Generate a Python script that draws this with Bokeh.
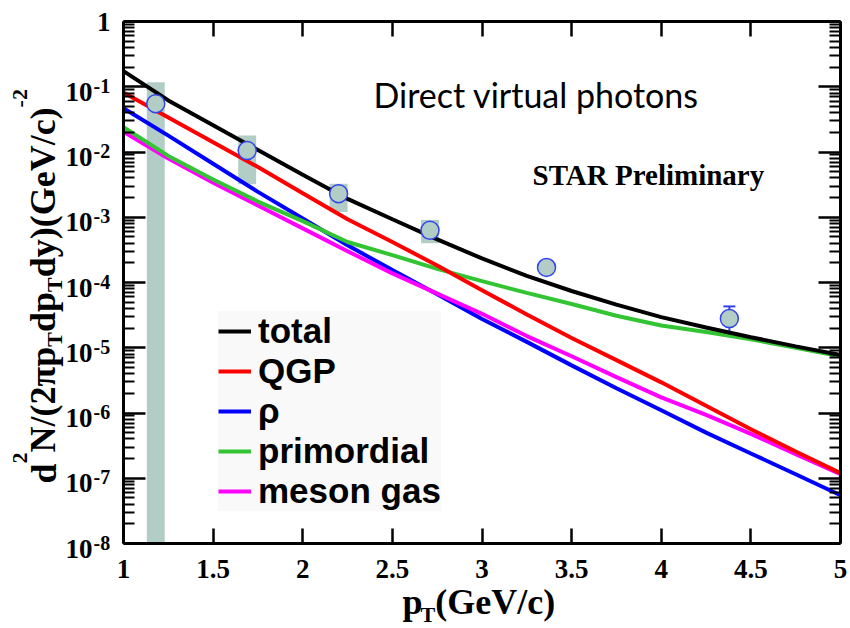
from bokeh.plotting import figure
from bokeh.models import (ColumnDataSource, FixedTicker, LinearAxis, LogAxis,
                          LabelSet, Legend, LegendItem, Whisker, TeeHead, CustomJSTickFormatter)
from bokeh.core.properties import value
from bokeh.embed import file_html
from bokeh.resources import INLINE

# ---------------- data ----------------
pt = [1.0, 1.25, 1.5, 1.75, 2.0, 2.25, 2.5, 2.75, 3.0, 3.25, 3.5, 3.75, 4.0, 4.25, 4.5, 4.75, 5.0]
total = [0.174, 0.0617, 0.0257, 0.0107, 4.47e-3, 1.91e-3, 9.33e-4, 4.57e-4, 2.34e-4, 1.26e-4,
         7.41e-5, 4.57e-5, 2.95e-5, 2.04e-5, 1.45e-5, 1.05e-5, 7.76e-6]
qgp = [0.0813, 0.0339, 0.0141, 5.89e-3, 2.34e-3, 9.33e-4, 4.17e-4, 1.82e-4, 7.59e-5, 3.24e-5,
       1.41e-5, 6.46e-6, 2.95e-6, 1.29e-6, 5.62e-7, 2.57e-7, 1.20e-7]
rho = [0.0468, 0.0178, 6.61e-3, 2.45e-3, 9.55e-4, 3.72e-4, 1.55e-4, 6.61e-5, 2.75e-5, 1.23e-5,
       5.37e-6, 2.40e-6, 1.10e-6, 5.01e-7, 2.40e-7, 1.15e-7, 5.50e-8]
primordial = [0.0240, 8.71e-3, 3.80e-3, 1.74e-3, 8.71e-4, 4.17e-4, 2.63e-4, 1.62e-4, 1.05e-4, 6.92e-5,
              4.68e-5, 3.09e-5, 2.19e-5, 1.74e-5, 1.35e-5, 1.00e-5, 7.41e-6]
meson_gas = [0.0204, 7.94e-3, 3.39e-3, 1.51e-3, 6.76e-4, 3.02e-4, 1.38e-4, 6.76e-5, 3.31e-5, 1.51e-5,
             7.41e-6, 3.55e-6, 1.74e-6, 9.33e-7, 4.79e-7, 2.34e-7, 1.15e-7]

# STAR preliminary data points
data_pt = [1.18, 1.69, 2.20, 2.71, 3.36, 4.38]
data_y = [0.055, 0.0105, 2.3e-3, 6.3e-4, 1.7e-4, 2.8e-5]
# statistical error (only visible one)
err_pt = [4.38]
err_lo = [1.7e-5]
err_hi = [4.3e-5]
# systematic boxes (first one reaches down to the axis)
sys_pt = [1.18, 1.69, 2.20, 2.71]
sys_lo = [1e-8, 3.2e-3, 1.2e-3, 4.0e-4]
sys_hi = [0.117, 0.0179, 3.26e-3, 9.1e-4]

x_ticks = [1, 1.5, 2, 2.5, 3, 3.5, 4, 4.5, 5]
x_tick_labels = ["1", "1.5", "2", "2.5", "3", "3.5", "4", "4.5", "5"]
y_decades = [1e-8, 1e-7, 1e-6, 1e-5, 1e-4, 1e-3, 1e-2, 1e-1, 1.0]
y_exp_labels = ["-8", "-7", "-6", "-5", "-4", "-3", "-2", "-1"]

# ---------------- layout constants (canvas pixels) ----------------
W_CAN, H_CAN = 848, 626
B = 1                       # border around the frame
FL, FT, FR, FB = B, B, W_CAN - B, H_CAN - B
PX_L, PX_R = 123, 840       # where pT = 1 and pT = 5 sit
PY_T, PY_B = 21, 543        # where y = 1 and y = 1e-8 sit
ppu = (PX_R - PX_L) / 4.0
ppd = (PY_B - PY_T) / 8.0
x_start = 1 - (PX_L - FL) / ppu
x_end = 5 + (FR - PX_R) / ppu
y_end = 10 ** ((PY_T - FT) / ppd)
y_start = 10 ** (-8 - (FB - PY_B) / ppd)

def sx(X):
    return X - FL

def sy(Y):
    return FB - Y

SERIF = "Liberation Serif"
SANS = "Liberation Sans"

p = figure(width=W_CAN, height=H_CAN, x_range=(x_start, x_end), y_range=(y_start, y_end),
           y_axis_type="log", output_backend="svg", toolbar_location=None,
           min_border_left=B, min_border_right=B, min_border_top=B, min_border_bottom=B)
p.grid.visible = False
p.outline_line_color = None
p.background_fill_color = "white"
p.border_fill_color = "white"

y_minor = [m * d for d in y_decades[:-1] for m in range(2, 10)]
blank = CustomJSTickFormatter(code="return ''")

def style_axis(ax, tick_in, minor_in):
    ax.formatter = blank
    ax.major_label_text_font_size = "1px"
    ax.major_label_standoff = 0
    ax.axis_line_width = 3
    ax.axis_line_color = "black"
    ax.major_tick_in = tick_in
    ax.major_tick_out = 0
    ax.minor_tick_in = minor_in
    ax.minor_tick_out = 0
    ax.major_tick_line_width = 2.5
    ax.minor_tick_line_width = 2
    ax.major_tick_line_color = "black"
    ax.minor_tick_line_color = "black"

xa = p.xaxis[0]
xa.ticker = FixedTicker(ticks=x_ticks, minor_ticks=[])
style_axis(xa, 15, 0)
xa.fixed_location = 1e-8
xa.bounds = (1, 5)

ya = p.yaxis[0]
ya.ticker = FixedTicker(ticks=y_decades, minor_ticks=y_minor)
style_axis(ya, 22, 11)
ya.fixed_location = 1
ya.bounds = (1e-8, 1)

top = LinearAxis(ticker=FixedTicker(ticks=x_ticks, minor_ticks=[]))
style_axis(top, 15, 0)
top.fixed_location = 1.0
top.bounds = (1, 5)
p.add_layout(top, "above")

right = LogAxis(ticker=FixedTicker(ticks=y_decades, minor_ticks=y_minor))
style_axis(right, 22, 11)
right.fixed_location = 5
right.bounds = (1e-8, 1)
p.add_layout(right, "right")

# ---------------- glyphs ----------------
BOX = "#b2cdc6"
p.vbar(x=sys_pt, width=0.1, bottom=sys_lo, top=sys_hi, fill_color=BOX, line_color=None)

r_rho = p.line(pt, rho, line_color="#0000ff", line_width=4)
r_mes = p.line(pt, meson_gas, line_color="#ff00ff", line_width=4)
r_pri = p.line(pt, primordial, line_color="#33c433", line_width=4)
r_qgp = p.line(pt, qgp, line_color="#ff0000", line_width=4)
r_tot = p.line(pt, total, line_color="#000000", line_width=4)

esrc = ColumnDataSource(dict(base=err_pt, lower=err_lo, upper=err_hi))
p.add_layout(Whisker(source=esrc, base="base", lower="lower", upper="upper", dimension="height",
                     line_color="#3344ee", line_width=2,
                     upper_head=TeeHead(size=12, line_color="#3344ee", line_width=2),
                     lower_head=None))

p.scatter(data_pt, data_y, marker="circle", size=18, fill_color=BOX, line_color="#3344ee",
          line_width=1.5)

# ---------------- legend ----------------
legend = Legend(items=[LegendItem(label="total", renderers=[r_tot]),
                       LegendItem(label="QGP", renderers=[r_qgp]),
                       LegendItem(label="ρ", renderers=[r_rho]),
                       LegendItem(label="primordial", renderers=[r_pri]),
                       LegendItem(label="meson gas", renderers=[r_mes])],
                location=(sx(218), sy(511)), orientation="vertical")
legend.label_text_font = SANS
legend.label_text_font_style = "bold"
legend.label_text_font_size = "35px"
legend.label_text_color = "black"
legend.glyph_width = 33
legend.glyph_height = 38
legend.label_height = 38
legend.label_standoff = 7
legend.spacing = 0
legend.padding = 4
legend.margin = 0
legend.border_line_color = None
legend.background_fill_color = "#f9f9f9"
legend.background_fill_alpha = 1.0
p.add_layout(legend)

# ---------------- text helper (LabelSet, screen units relative to frame) ----------------
def text_at(X, Y, txt, size, font=SERIF, style="bold", angle=0.0, align="left"):
    src = ColumnDataSource(dict(x=[sx(X)], y=[sy(Y)], t=[txt]))
    p.add_layout(LabelSet(x="x", y="y", text="t", source=src, x_units="screen", y_units="screen",
                          angle=angle, text_align=align, text_baseline="alphabetic",
                          text_font=value(font), text_font_style=style,
                          text_font_size=f"{size}px", text_color="black"))

# ---------------- tick labels ----------------
xsrc = ColumnDataSource(dict(x=x_ticks, y=[1e-8] * len(x_ticks), t=x_tick_labels))
p.add_layout(LabelSet(x="x", y="y", text="t", source=xsrc, text_align="center",
                      text_baseline="alphabetic", y_offset=-(577 - PY_B),
                      text_font=value(SERIF), text_font_style="bold", text_font_size="27px",
                      text_color="black"))

tsrc = ColumnDataSource(dict(y=y_decades[:-1], base=["10"] * 8, exp=y_exp_labels))
p.add_layout(LabelSet(x=sx(92), y="y", x_units="screen", y_units="data", text="base", source=tsrc,
                      text_align="right", text_baseline="alphabetic", y_offset=-14,
                      text_font=value(SERIF), text_font_style="bold", text_font_size="27px",
                      text_color="black"))
p.add_layout(LabelSet(x=sx(93), y="y", x_units="screen", y_units="data", text="exp", source=tsrc,
                      text_align="left", text_baseline="alphabetic", y_offset=-6,
                      text_font=value(SERIF), text_font_style="bold", text_font_size="20px",
                      text_color="black"))
text_at(110, 30, "1", 27, align="right")

# ---------------- axis titles built from pieces ----------------
W = {"d": .556, "N": .722, "/": .278, "(": .333, ")": .333, "2": .5, "π": .549, "p": .556,
     "y": .5, "G": .778, "e": .444, "V": .722, "c": .444, "T": .667, "-": .333}

def wid(s, size):
    return sum(W[ch] for ch in s) * size

MAIN, SMALL = 36, 22
ypieces = [("d", "main"), ("2", "sup"), ("N/(2πp", "main"), ("T", "sub"), ("dp", "main"),
           ("T", "sub"), ("dy)(GeV/c)", "main"), ("-2", "sup")]
base_x = {"main": 55, "sub": 62, "sup": 27}
pos = 483.0
for txt, kind in ypieces:
    size = MAIN if kind == "main" else SMALL
    text_at(base_x[kind], pos, txt, size, angle=1.5707963)
    pos -= wid(txt, size)

xpieces = [("p", "main"), ("T", "sub"), ("(GeV/c)", "main")]
base_y = {"main": 613, "sub": 621}
posx = 402.0
for txt, kind in xpieces:
    size = MAIN if kind == "main" else SMALL
    text_at(posx, base_y[kind], txt, size)
    posx += wid(txt, size) - (2 if txt == "p" else 0)

# ---------------- annotations ----------------
text_at(373, 107, "Direct virtual photons", 34, font="Lato", style="normal")
text_at(532, 184, "STAR Preliminary", 29)

open("out.html", "w").write(file_html(p, INLINE))
